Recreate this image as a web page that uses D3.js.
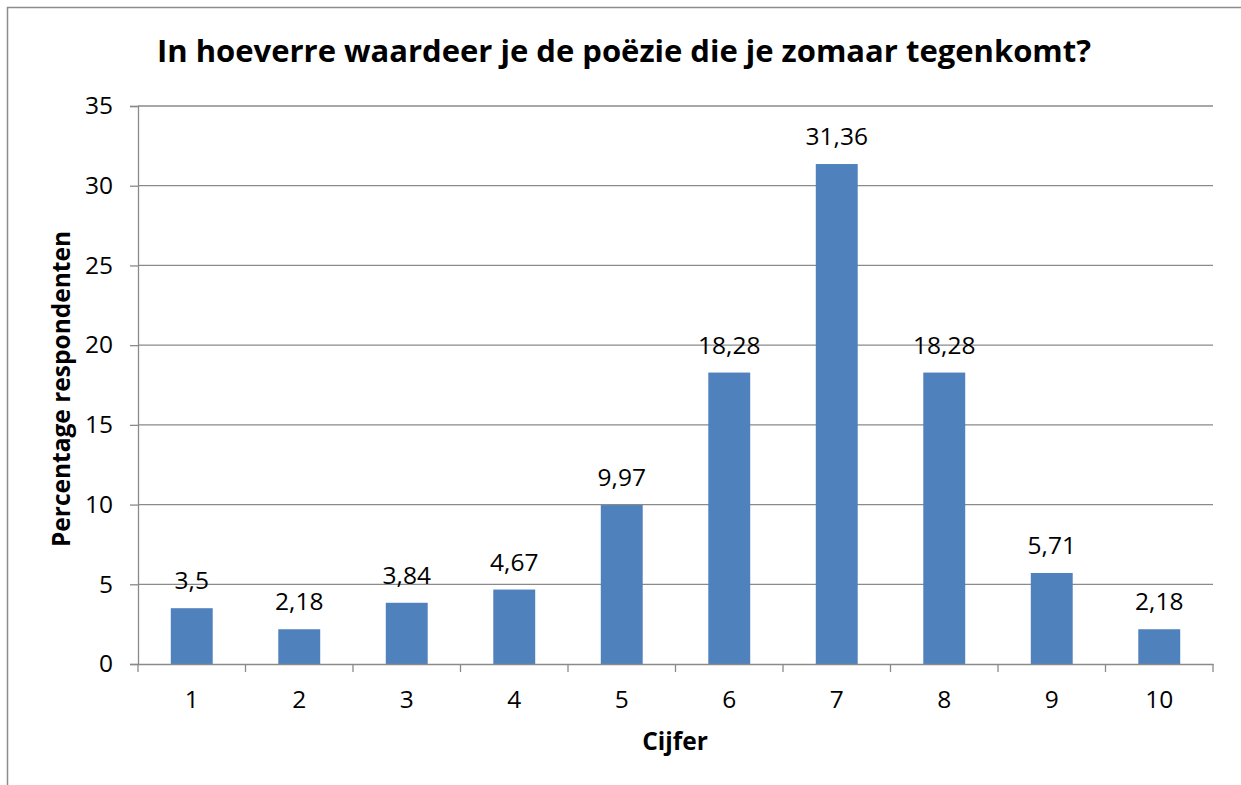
<!DOCTYPE html>
<html><head><meta charset="utf-8">
<script src="https://cdn.jsdelivr.net/npm/d3@7"></script>
<style>body{margin:0;background:#fff}</style>
</head><body>
<svg id="c" width="1241" height="785"></svg>
<script>
const categories = ["1","2","3","4","5","6","7","8","9","10"];
const values = [3.5, 2.18, 3.84, 4.67, 9.97, 18.28, 31.36, 18.28, 5.71, 2.18];
const valueLabels = ["3,5","2,18","3,84","4,67","9,97","18,28","31,36","18,28","5,71","2,18"];
const yTicks = [0,5,10,15,20,25,30,35];
const title = "In hoeverre waardeer je de poëzie die je zomaar tegenkomt?";
const xTitle = "Cijfer";
const yTitle = "Percentage respondenten";

const svg = d3.select("#c");
const font = "Open Sans, sans-serif";
const pLeft = 138, pRight = 1213, pTop = 106, pBottom = 664;
const fs = 24.5;

svg.append("rect").attr("x",7.5).attr("y",7.5).attr("width",1300).attr("height",1000)
  .attr("fill","#fff").attr("stroke","#8c8c8c").attr("stroke-width",1.5);

const x = d3.scaleBand().domain(categories).range([pLeft,pRight]).paddingInner(0.61).paddingOuter(0.305);
const xb = d3.scaleBand().domain(categories).range([pLeft,pRight]);
const y = d3.scaleLinear().domain([0,35]).range([pBottom,pTop]);

svg.append("g").selectAll("line").data(yTicks.filter(d=>d>0)).join("line")
  .attr("x1",pLeft).attr("x2",pRight).attr("y1",d=>y(d)).attr("y2",d=>y(d))
  .attr("stroke","#8a8a8a").attr("stroke-width",1.3);

svg.append("g").selectAll("rect").data(values).join("rect")
  .attr("x",(d,i)=>x(categories[i])).attr("width",x.bandwidth())
  .attr("y",d=>y(d)).attr("height",d=>y(0)-y(d)).attr("fill","#4F81BD");

const ya = svg.append("g").attr("transform",`translate(${pLeft},0)`)
  .call(d3.axisLeft(y).tickValues(yTicks).tickSize(8).tickPadding(17).tickFormat(d3.format("d")));
ya.select(".domain").attr("stroke","#8a8a8a").attr("stroke-width",1.3);
ya.selectAll(".tick line").attr("stroke","#8a8a8a").attr("stroke-width",1.3);
ya.selectAll("text").attr("font-family",font).attr("font-size",fs).attr("fill","#000");

const xa = svg.append("g").attr("transform",`translate(0,${pBottom})`)
  .call(d3.axisBottom(xb).tickSize(0).tickPadding(26.5));
xa.select(".domain").attr("stroke","#8a8a8a").attr("stroke-width",1.3);
xa.selectAll("text").attr("font-family",font).attr("font-size",fs).attr("fill","#000");
svg.append("g").selectAll("line").data(d3.range(categories.length+1)).join("line")
  .attr("x1",i=>pLeft+i*xb.step()).attr("x2",i=>pLeft+i*xb.step())
  .attr("y1",pBottom).attr("y2",pBottom+8).attr("stroke","#8a8a8a").attr("stroke-width",1.3);

svg.append("g").selectAll("text").data(values).join("text")
  .attr("x",(d,i)=>xb(categories[i])+xb.bandwidth()/2).attr("y",d=>y(d)-19)
  .attr("text-anchor","middle").attr("font-family",font).attr("font-size",fs)
  .text((d,i)=>valueLabels[i]);

svg.append("text").attr("x",624).attr("y",62).attr("text-anchor","middle")
  .attr("font-family",font).attr("font-weight","bold").attr("font-size",31).text(title);
svg.append("text").attr("x",675).attr("y",750).attr("text-anchor","middle")
  .attr("font-family",font).attr("font-weight","bold").attr("font-size",fs).text(xTitle);
svg.append("text").attr("transform","translate(70,389) rotate(-90)").attr("text-anchor","middle")
  .attr("font-family",font).attr("font-weight","bold").attr("font-size",fs).text(yTitle);
</script>
</body></html>
